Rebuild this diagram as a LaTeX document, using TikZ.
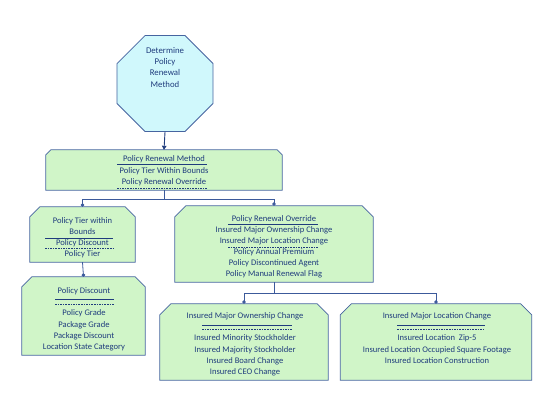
\documentclass[tikz,border=0pt]{standalone}
\usepackage{fontspec}
\setmainfont{Carlito}
\usetikzlibrary{shapes.geometric,arrows.meta}
\definecolor{boxg}{RGB}{208,245,200}
\definecolor{octc}{RGB}{208,248,252}
\definecolor{bordc}{RGB}{70,100,160}
\definecolor{txtc}{RGB}{31,60,125}
\definecolor{linec}{RGB}{60,90,155}
\tikzset{
  box/.style={rectangle, draw=none, inner sep=0pt},
  boxline/.style={draw=bordc, fill=boxg, line width=0.8bp},
  txt/.style={inner sep=0pt, text=txtc, font=\fontsize{8.6}{11}\selectfont, text height=5.5bp, text depth=1.5bp},
  uline/.style={draw=txtc, line width=0.6bp},
  dline/.style={draw=txtc, line width=0.6bp, dash pattern=on 1.6bp off 1bp},
  conn/.style={draw=linec, line width=0.8bp, -{Circle[length=3.5bp]}},
}
\newcommand{\chbox}[2]{%
  \filldraw[boxline] (#1.south west) -- ([yshift=-#2]#1.north west) -- ([xshift=#2]#1.north west)
    -- ([xshift=-#2]#1.north east) -- ([yshift=-#2]#1.north east) -- (#1.south east) -- cycle;}
\begin{document}
\begin{tikzpicture}[x=1bp,y=-1bp]
\useasboundingbox (0,0) rectangle (550,413);
% octagon
\node[regular polygon, regular polygon sides=8, minimum size=104bp, draw=bordc, fill=octc, line width=0.8bp, inner sep=0pt] (oct) at (165,83.5) {};
\node[txt, align=center, font=\fontsize{8.8}{11.3}\selectfont] (octt) at (165,85) {Determine\\Policy\\Renewal\\Method};
% boxes
\node[box, minimum width=236bp, minimum height=40bp] (b1) at (164,170) {};
\node[box, minimum width=105bp, minimum height=55bp] (b2) at (82.5,234.5) {};
\node[box, minimum width=198bp, minimum height=76bp] (b3) at (274,244) {};
\node[box, minimum width=123bp, minimum height=78bp] (b4) at (83.5,316) {};
\node[box, minimum width=168bp, minimum height=76bp] (b5) at (244,342) {};
\node[box, minimum width=191bp, minimum height=76bp] (b6) at (436,342) {};
\chbox{b1}{5bp}
\chbox{b2}{10bp}
\chbox{b3}{11bp}
\chbox{b4}{10bp}
\chbox{b5}{11bp}
\chbox{b6}{11bp}
% connectors
\draw[draw=txtc, line width=0.9bp, -{Triangle[length=4bp,width=4.5bp]}] (oct.south) -- (b1.north);
\coordinate (j1) at (164,199);
\draw[draw=linec, line width=0.8bp] (b1.south) -- (j1);
\draw[conn] (j1) -| (b2.north);
\draw[conn] (j1) -| (b3.north);
\draw[conn] (b2.south) -- (b4.north);
\coordinate (j2) at (274,293);
\draw[draw=linec, line width=0.8bp] (b3.south) -- (j2);
\draw[conn] (j2) -| (b5.north);
\draw[conn] (j2) -| (b6.north);
% box 1 text
\node[txt] (t11) at (164,159) {Policy Renewal Method};
\node[txt] (t12) at (164,171) {Policy Tier Within Bounds};
\node[txt] (t13) at (164,182) {Policy Renewal Override};
\draw[uline] (117,164.5) -- (207,164.5);
\draw[dline] (117,188) -- (207,188);
% box 2 text
\node[txt] (t21) at (82.5,221) {Policy Tier within};
\node[txt] (t22) at (82.5,232) {Bounds};
\node[txt] (t23) at (82.5,243) {Policy Discount};
\node[txt] (t24) at (82.5,254) {Policy Tier};
\draw[uline] (45,238) -- (113,238);
\draw[dline] (45,248.5) -- (113,248.5);
% box 4 text
\node[txt] (t41) at (84,291) {Policy Discount};
\draw[uline] (55,299) -- (114,299);
\draw[dline] (55,304) -- (114,304);
\node[txt] (t42) at (84,313) {Policy Grade};
\node[txt] (t43) at (84,325) {Package Grade};
\node[txt] (t44) at (84,336) {Package Discount};
\node[txt] (t45) at (84,347) {Location State Category};
% box 3 text
\node[txt] (t31) at (274,219) {Policy Renewal Override};
\draw[uline] (228,224.5) -- (318,224.5);
\node[txt] (t32) at (274,230) {Insured Major Ownership Change};
\node[txt] (t33) at (274,241) {Insured Major Location Change};
\draw[dline] (228,247) -- (318,247);
\node[txt] (t34) at (274,252) {Policy Annual Premium};
\node[txt] (t35) at (274,263) {Policy Discontinued Agent};
\node[txt] (t36) at (274,274) {Policy Manual Renewal Flag};
% box 5 text
\node[txt] (t51) at (245,316) {Insured Major Ownership Change};
\draw[uline] (202,325) -- (292,325);
\draw[dline] (202,329) -- (292,329);
\node[txt] (t52) at (245,338) {Insured Minority Stockholder};
\node[txt] (t53) at (245,350) {Insured Majority Stockholder};
\node[txt] (t54) at (245,361) {Insured Board Change};
\node[txt] (t55) at (245,372) {Insured CEO Change};
% box 6 text
\node[txt] (t61) at (437,316) {Insured Major Location Change};
\draw[uline] (397,325) -- (485,325);
\draw[dline] (397,329) -- (485,329);
\node[txt] (t62) at (437,338) {Insured Location\ \ Zip-5};
\node[txt] (t63) at (437,350) {Insured Location Occupied Square Footage};
\node[txt] (t64) at (437,361) {Insured Location Construction};
\end{tikzpicture}
\end{document}
